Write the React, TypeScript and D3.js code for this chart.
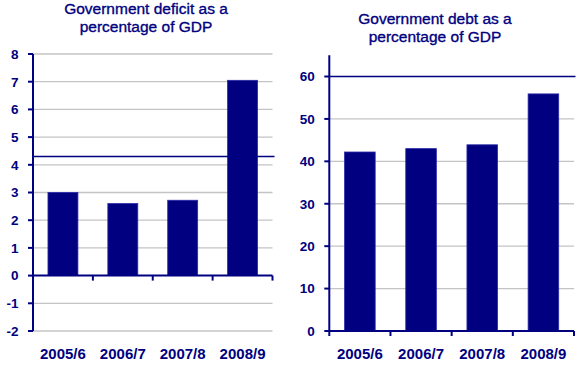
import React from "react";
import * as d3 from "d3";

const categories = ["2005/6", "2006/7", "2007/8", "2008/9"];
const deficitValues = [3.0, 2.6, 2.72, 7.05];
const debtValues = [42.2, 43.0, 43.9, 55.9];
const deficitTicks = [-2, -1, 0, 1, 2, 3, 4, 5, 6, 7, 8];
const debtTicks = [0, 10, 20, 30, 40, 50, 60];
const deficitTitle = ["Government deficit as a", "percentage of GDP"];
const debtTitle = ["Government debt as a", "percentage of GDP"];
const deficitLimit = 4.3;
const debtLimit = 60;

const NAVY = "#000080";
const GRID = "#c4c4c4";

type PanelProps = {
  values: number[];
  ticks: number[];
  domain: [number, number];
  yRange: [number, number];
  xRange: [number, number];
  limit: number;
  limitEnd: number;
  title: string[];
  titleX: number;
  titleY: number;
  axisBottomExtra: number;
};

function Panel(p: PanelProps) {
  const y = d3.scaleLinear().domain(p.domain).range(p.yRange);
  const x = d3
    .scaleBand<string>()
    .domain(categories)
    .range(p.xRange)
    .paddingInner(0.5)
    .paddingOuter(0.25);
  const x0 = p.xRange[0];
  const x1 = p.xRange[1];
  const zeroY = y(0);
  const step = x.step();
  const boundaries = categories.map((_, i) => x0 + (i + 1) * step);
  return (
    <g>
      {p.title.map((t, i) => (
        <text
          key={t}
          x={p.titleX}
          y={p.titleY + i * 18}
          textAnchor="middle"
          fontFamily="'Liberation Sans', Arial, sans-serif"
          fontSize={15.5}
          fill={NAVY}
          stroke={NAVY}
          strokeWidth={0.35}
        >
          {t}
        </text>
      ))}
      {p.ticks
        .filter((t) => t !== 0 && t !== p.limit)
        .map((t) => (
          <line key={"g" + t} x1={x0} x2={x1} y1={y(t)} y2={y(t)} stroke={GRID} strokeWidth={1.3} />
        ))}
      {categories.map((c, i) => {
        const v = p.values[i];
        const top = Math.min(y(v), zeroY);
        const h = Math.abs(y(v) - zeroY);
        return (
          <rect
            key={c}
            x={x(c)}
            y={top}
            width={x.bandwidth()}
            height={h}
            fill={NAVY}
            stroke="#2a2aa8"
            strokeWidth={0.8}
          />
        );
      })}
      <line x1={x0} x2={p.limitEnd} y1={y(p.limit)} y2={y(p.limit)} stroke={NAVY} strokeWidth={1.6} />
      <line
        x1={x0}
        x2={x0}
        y1={y(p.domain[1])}
        y2={y(p.domain[0]) + p.axisBottomExtra}
        stroke={NAVY}
        strokeWidth={2}
      />
      {p.ticks.map((t) => (
        <g key={"t" + t}>
          <line x1={x0 - 5} x2={x0} y1={y(t)} y2={y(t)} stroke={NAVY} strokeWidth={2} />
          <text
            x={x0 - 14.5}
            y={y(t)}
            dy="0.36em"
            textAnchor="end"
            fontFamily="'Liberation Sans', Arial, sans-serif"
            fontWeight="bold"
            fontSize={13.5}
            fill={NAVY}
          >
            {t}
          </text>
        </g>
      ))}
      <line x1={x0} x2={x1} y1={zeroY} y2={zeroY} stroke={NAVY} strokeWidth={2} />
      {boundaries.map((bx, i) => (
        <line key={"b" + i} x1={bx} x2={bx} y1={zeroY} y2={zeroY + 5} stroke={NAVY} strokeWidth={2} />
      ))}
      {categories.map((c) => (
        <text
          key={"l" + c}
          x={(x(c) as number) + x.bandwidth() / 2}
          y={359}
          textAnchor="middle"
          fontFamily="'Liberation Sans', Arial, sans-serif"
          fontWeight="bold"
          fontSize={15}
          fill={NAVY}
        >
          {c}
        </text>
      ))}
    </g>
  );
}

export default function App() {
  return (
    <svg
      width={580}
      height={371}
      style={{ position: "absolute", left: 0, top: 0, background: "#fff" }}
    >
      <rect width={580} height={371} fill="#fff" />
      <Panel
        values={deficitValues}
        ticks={deficitTicks}
        domain={[-2, 8]}
        yRange={[331, 54]}
        xRange={[33, 272.5]}
        limit={deficitLimit}
        limitEnd={274.5}
        title={deficitTitle}
        titleX={146}
        titleY={14}
        axisBottomExtra={0}
      />
      <Panel
        values={debtValues}
        ticks={debtTicks}
        domain={[0, 65]}
        yRange={[331, 55.3]}
        xRange={[329.3, 574]}
        limit={debtLimit}
        limitEnd={575.5}
        title={debtTitle}
        titleX={435}
        titleY={23.5}
        axisBottomExtra={5}
      />
    </svg>
  );
}
